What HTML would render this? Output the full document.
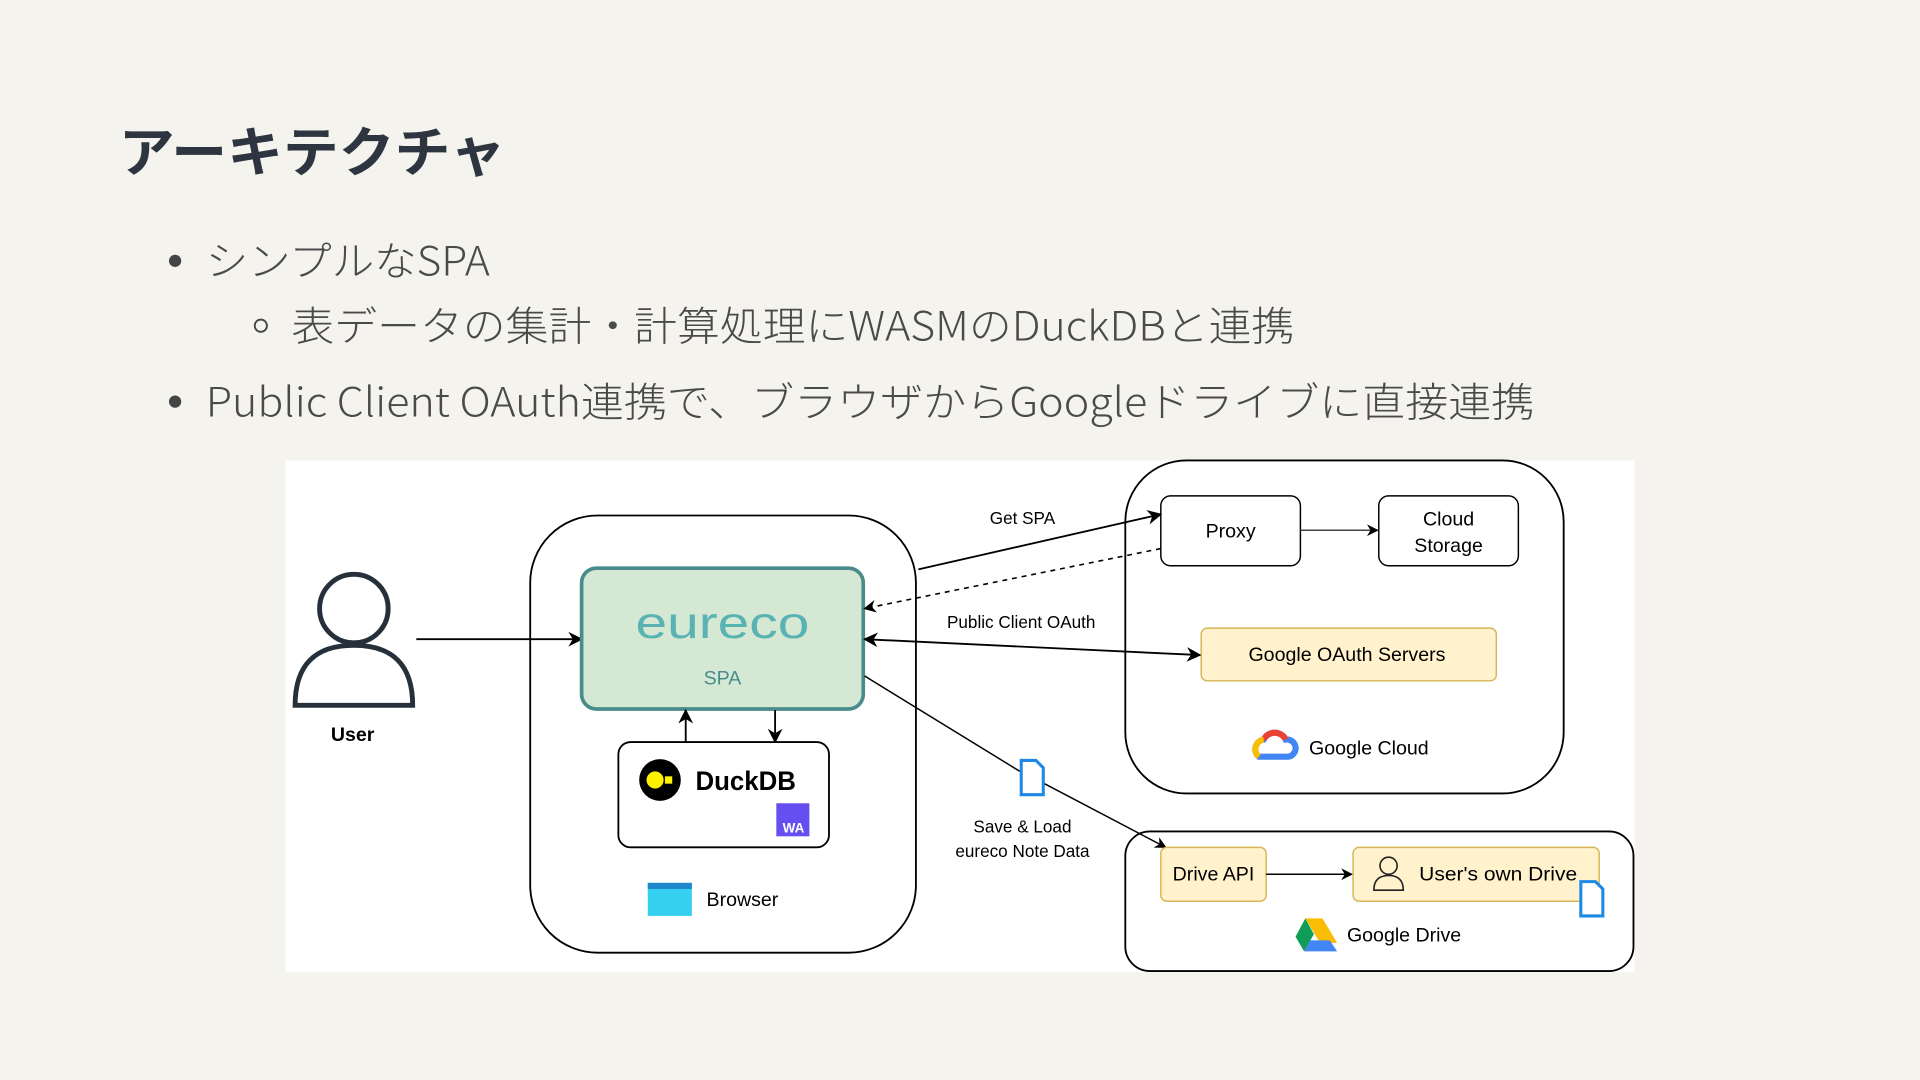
<!DOCTYPE html>
<html><head><meta charset="utf-8"><style>
html,body{margin:0;padding:0;background:#f4f3ee;}
svg{display:block}
text{font-family:"Liberation Sans","Noto Sans CJK JP",sans-serif;}
.b{font-family:"Noto Sans CJK JP","Liberation Sans",sans-serif;}
</style></head><body>
<svg width="1920" height="1080" viewBox="0 0 1568 882" xmlns="http://www.w3.org/2000/svg">
<defs>
<marker id="a" viewBox="0 0 10 10" refX="9" refY="5" markerWidth="8" markerHeight="8" orient="auto-start-reverse"><path d="M0,0 L10,5 L0,10 L3,5 z" fill="#000"/></marker>
</defs>
<rect width="1568" height="882" fill="#f4f3ee"/>
<text class="b" x="97" y="140" font-size="44" font-weight="bold" fill="#2d3540" textLength="316" lengthAdjust="spacingAndGlyphs">アーキテクチャ</text>
<circle cx="143" cy="213" r="5" fill="#444"/>
<text class="b" x="168" y="225" font-size="33" fill="#4a4a4a" font-weight="300" textLength="232" lengthAdjust="spacingAndGlyphs">シンプルなSPA</text>
<circle cx="213" cy="266" r="5" fill="none" stroke="#444" stroke-width="1.5"/>
<text class="b" x="238" y="278" font-size="33" fill="#4a4a4a" font-weight="300" textLength="819" lengthAdjust="spacingAndGlyphs">表データの集計・計算処理にWASMのDuckDBと連携</text>
<circle cx="143" cy="328" r="5" fill="#444"/>
<text class="b" x="168" y="340" font-size="33" fill="#4a4a4a" font-weight="300" textLength="1085" lengthAdjust="spacingAndGlyphs">Public Client OAuth連携で、ブラウザからGoogleドライブに直接連携</text>

<rect x="233" y="376" width="1102" height="418" fill="#fff"/>
<circle cx="289" cy="497" r="28" fill="none" stroke="#26303b" stroke-width="4"/>
<path d="M241,576 Q241,527 289,527 Q337,527 337,576 Z" fill="none" stroke="#26303b" stroke-width="4"/>
<text x="288" y="605" font-size="16" font-weight="bold" text-anchor="middle">User</text>
<line x1="340" y1="522" x2="475" y2="522" stroke="#000" stroke-width="1.5" marker-end="url(#a)"/>
<rect x="433" y="421" width="315" height="357" rx="55" fill="none" stroke="#000" stroke-width="1.5"/>
<rect x="475" y="464" width="230" height="115" rx="12" fill="#d5e8d4" stroke="#4a8b8b" stroke-width="3"/>
<text x="590" y="521" font-size="36" fill="#5ab3b3" text-anchor="middle" textLength="142" lengthAdjust="spacingAndGlyphs">eureco</text>
<text x="590" y="559" font-size="16" fill="#4a8b8b" text-anchor="middle">SPA</text>
<line x1="560" y1="606" x2="560" y2="580" stroke="#000" stroke-width="1.5" marker-end="url(#a)"/>
<line x1="633" y1="580" x2="633" y2="606" stroke="#000" stroke-width="1.5" marker-end="url(#a)"/>
<rect x="505" y="606" width="172" height="86" rx="10" fill="#fff" stroke="#000" stroke-width="1.5"/>
<circle cx="539" cy="637" r="17" fill="#000"/><circle cx="535" cy="637" r="7" fill="#fff100"/><rect x="543" y="634" width="6" height="6" fill="#fff100"/>
<text x="568" y="645" font-size="22" font-weight="bold" textLength="82" lengthAdjust="spacingAndGlyphs">DuckDB</text>
<rect x="634" y="656" width="27" height="27" fill="#654ff0"/><text x="648" y="680" font-size="11" font-weight="bold" fill="#fff" text-anchor="middle">WA</text>
<rect x="529" y="721" width="36" height="27" fill="#35d0f0"/><rect x="529" y="721" width="36" height="5" fill="#1e88c8"/>
<text x="577" y="740" font-size="16">Browser</text>
<rect x="919" y="376" width="358" height="272" rx="50" fill="none" stroke="#000" stroke-width="1.5"/>
<rect x="948" y="405" width="114" height="57" rx="8" fill="#fff" stroke="#000" stroke-width="1.2"/>
<text x="1005" y="439" font-size="16" text-anchor="middle">Proxy</text>
<rect x="1126" y="405" width="114" height="57" rx="8" fill="#fff" stroke="#000" stroke-width="1.2"/>
<text x="1183" y="429" font-size="16" text-anchor="middle">Cloud</text><text x="1183" y="451" font-size="16" text-anchor="middle">Storage</text>
<line x1="1062" y1="433" x2="1125" y2="433" stroke="#444" stroke-width="1.2" marker-end="url(#a)"/>
<rect x="981" y="513" width="241" height="43" rx="5" fill="#fff2cc" stroke="#d6b656" stroke-width="1.2"/>
<text x="1100" y="540" font-size="16" text-anchor="middle">Google OAuth Servers</text>
<path d="M1028,618 a8,8 0 0 1 4,-14 a10,10 0 0 1 18,0 a7,7 0 0 1 2,14 z" fill="none" stroke="#4285f4" stroke-width="5"/>
<path d="M1032,604 a10,10 0 0 1 18,0" fill="none" stroke="#ea4335" stroke-width="5"/>
<path d="M1028,618 a8,8 0 0 1 4,-14" fill="none" stroke="#fbbc04" stroke-width="5"/>
<text x="1069" y="616" font-size="16">Google Cloud</text>
<line x1="750" y1="465" x2="948" y2="420" stroke="#000" stroke-width="1.5" marker-end="url(#a)"/>
<text x="835" y="428" font-size="14" text-anchor="middle">Get SPA</text>
<line x1="948" y1="448" x2="706" y2="497" stroke="#000" stroke-width="1.3" stroke-dasharray="4,4" marker-end="url(#a)"/>
<line x1="706" y1="522" x2="980" y2="535" stroke="#000" stroke-width="1.5" marker-start="url(#a)" marker-end="url(#a)"/>
<text x="834" y="513" font-size="14" text-anchor="middle">Public Client OAuth</text>
<line x1="706" y1="552" x2="833" y2="630" stroke="#000" stroke-width="1.2"/>
<line x1="853" y1="640" x2="952" y2="692" stroke="#000" stroke-width="1.2" marker-end="url(#a)"/>
<path d="M834,621 h12 l6,6 v22 h-18z" fill="#fff" stroke="#1e88e5" stroke-width="2.5"/>
<text x="835" y="680" font-size="14" text-anchor="middle">Save &amp; Load</text>
<text x="835" y="700" font-size="14" text-anchor="middle">eureco Note Data</text>
<rect x="919" y="679" width="415" height="114" rx="20" fill="none" stroke="#000" stroke-width="1.5"/>
<rect x="948" y="692" width="86" height="44" rx="5" fill="#fff2cc" stroke="#d6b656" stroke-width="1.2"/>
<text x="991" y="719" font-size="16" text-anchor="middle">Drive API</text>
<line x1="1034" y1="714" x2="1104" y2="714" stroke="#000" stroke-width="1.2" marker-end="url(#a)"/>
<rect x="1105" y="692" width="201" height="44" rx="5" fill="#fff2cc" stroke="#d6b656" stroke-width="1.2"/>
<circle cx="1134" cy="707" r="7" fill="none" stroke="#222" stroke-width="1.3"/>
<path d="M1122,727 q0,-12 12,-12 q12,0 12,12 z" fill="none" stroke="#222" stroke-width="1.3"/>
<text x="1159" y="719" font-size="16" textLength="129" lengthAdjust="spacingAndGlyphs">User's own Drive</text>
<path d="M1291,720 h12 l6,6 v22 h-18z" fill="#fff" stroke="#1e88e5" stroke-width="2.5"/>
<path d="M1066,750 h14 l12,20 h-14z" fill="#fbbc04"/><path d="M1066,750 l-8,15 l7,12 l8,-14z" fill="#0f9d58"/><path d="M1065,777 h27 l-6,-9 h-16z" fill="#4285f4"/>
<text x="1100" y="769" font-size="16">Google Drive</text>
</svg>
</body></html>
